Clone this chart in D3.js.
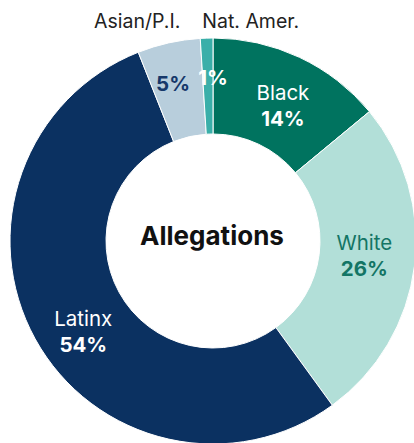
<!doctype html>
<html>
<head>
<meta charset="UTF-8">
<title>Allegations</title>
<style>
	body { margin: 0; background: #fff; }
	#container { font-size: 0; }
	text { font-family: Inter, Lato, sans-serif; }
</style>
</head>
<body>
<div id="container"></div>
<script src="https://cdn.jsdelivr.net/npm/d3@7"></script>
<script>
	var w = 414;
	var h = 443;

	// data, clockwise from 12 o'clock
	var categories = ["Black", "White", "Latinx", "Asian/P.I.", "Nat. Amer."];
	var values = [14, 26, 54, 5, 1];
	var colors = ["#00735f", "#b2dfd8", "#0b3161", "#b8cedc", "#3aafa9"];
	var textColors = ["#ffffff", "#137565", "#ffffff", "#16386a", "#ffffff"];
	var outside = [false, false, false, true, true]; // name goes above the ring

	// label placement tweaks (degrees / px) so labels sit like the original
	var labelShift = [2, -2, -6, -1.7, 1.8];
	var labelRadius = [153, 152, 158, 162, 163];

	var cx = 213, cy = 241;
	var outerR = 203, innerR = 107;

	var svg = d3.select("#container")
			.append("svg")
			.attr("width", w)
			.attr("height", h);

	var g = svg.append("g")
			.attr("transform", "translate(" + cx + "," + cy + ")");

	var pie = d3.pie().sort(null).value(function (d) { return d; });
	var arcs = pie(values);

	var arc = d3.arc().innerRadius(innerR).outerRadius(outerR);

	g.selectAll("path")
			.data(arcs)
			.enter()
			.append("path")
			.attr("d", arc)
			.attr("fill", function (d, i) { return colors[i]; })
			.attr("stroke", "#fff")
			.attr("stroke-width", 1);

	// labels inside the ring
	arcs.forEach(function (d, i) {
		var a = (d.startAngle + d.endAngle) / 2 + labelShift[i] * Math.PI / 180;
		var x = labelRadius[i] * Math.sin(a);
		var y = -labelRadius[i] * Math.cos(a);
		var t = g.append("text")
				.attr("text-anchor", "middle")
				.attr("fill", textColors[i])
				.attr("font-size", 20.5);
		if (outside[i]) {
			t.attr("x", x).attr("y", y + 7)
					.attr("font-weight", 700)
					.text(values[i] + "%");
		} else {
			t.append("tspan").attr("x", x).attr("y", y - 5)
					.text(categories[i]);
			t.append("tspan").attr("x", x).attr("y", y + 21)
					.attr("font-weight", 700)
					.text(values[i] + "%");
		}
	});

	// names above the ring for the small slices
	var natX = outerR * Math.sin(arcs[4].startAngle);
	g.append("text")
			.attr("x", natX + 2)
			.attr("y", -outerR - 10)
			.attr("text-anchor", "start")
			.attr("fill", "#222")
			.attr("font-size", 19.5)
			.text(categories[4]);
	g.append("text")
			.attr("x", natX - 20)
			.attr("y", -outerR - 10)
			.attr("text-anchor", "end")
			.attr("fill", "#222")
			.attr("font-size", 19.5)
			.text(categories[3]);

	g.append("text")
			.attr("x", -1)
			.attr("y", 4)
			.attr("text-anchor", "middle")
			.attr("fill", "#111")
			.attr("font-size", 26)
			.attr("font-weight", 700)
			.text("Allegations");
</script>
</body>
</html>
